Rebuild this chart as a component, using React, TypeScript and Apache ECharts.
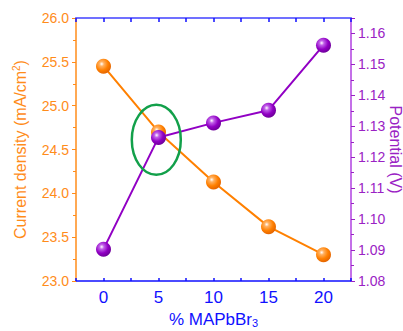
import React, { useEffect, useRef } from "react";
import * as echarts from "echarts";

const xValues = [0, 5, 10, 15, 20];
const currentDensity = [25.45, 24.7, 24.13, 23.62, 23.3];
const potential = [1.0903, 1.1264, 1.1311, 1.1352, 1.1562];
// annotation ellipse: centre in data coords (x, current density), radii in px
const ellipseCenter = [4.8, 24.61];
const ellipseRadii = [24.5, 35];

const ORANGE = "#FF8000";
const ORANGE_TXT = "#FF8C1A";
const PURPLE = "#9100C4";
const PURPLE_TXT = "#9A22C4";
const BLUE = "#1010FF";
const FONT = "'Liberation Sans', Arial, sans-serif";

function sphere(color: string, dark: string, light: string) {
  return {
    type: "radial",
    x: 0.38,
    y: 0.35,
    r: 0.7,
    colorStops: [
      { offset: 0, color: "#ffffff" },
      { offset: 0.22, color: light },
      { offset: 0.6, color: color },
      { offset: 1, color: dark },
    ],
  };
}

export default function App() {
  const ref = useRef<HTMLDivElement>(null);
  useEffect(() => {
    document.body.style.margin = "0";
    if (!ref.current) return;
    const chart = echarts.init(ref.current, null, { renderer: "svg" });
    const option: any = {
      animation: false,
      backgroundColor: "#ffffff",
      grid: { left: 76, right: 52, top: 18, bottom: 50, outerBoundsMode: "none", containLabel: false },
      xAxis: [
        {
          type: "value",
          min: -2.5,
          max: 22.5,
          interval: 2.5,
          position: "bottom",
          name: "{a|% MAPbBr}{s|3}",
          nameLocation: "middle",
          nameGap: 28,
          nameTextStyle: {
            rich: {
              a: { fontSize: 17, color: BLUE, fontFamily: FONT },
              s: { fontSize: 11, color: BLUE, fontFamily: FONT, padding: [8, 0, 0, 0] },
            },
          },
          axisLine: { show: true, onZero: false, lineStyle: { color: BLUE, width: 1.5 } },
          axisTick: { show: true, inside: true, length: 3, lineStyle: { color: BLUE, width: 1.5 } },
          axisLabel: {
            color: BLUE,
            fontSize: 17,
            fontFamily: FONT,
            margin: 8,
            formatter: (v: number) => (Math.abs(v % 5) < 1e-9 && v >= 0 ? String(v) : ""),
          },
          splitLine: { show: false },
        },
        {
          type: "value",
          min: -2.5,
          max: 22.5,
          interval: 2.5,
          position: "top",
          axisLine: { show: true, onZero: false, lineStyle: { color: "#7070FF", width: 2 } },
          axisTick: { show: true, inside: true, length: 4, lineStyle: { color: BLUE, width: 1.5 } },
          axisLabel: { show: false },
          splitLine: { show: false },
        },
      ],
      yAxis: [
        {
          type: "value",
          min: 23,
          max: 26,
          interval: 0.5,
          position: "left",
          name: "{a|Current density (mA/cm}{p|2}{a|)}",
          nameLocation: "middle",
          nameGap: 46,
          nameRotate: 90,
          nameTextStyle: {
            rich: {
              a: { fontSize: 16, color: ORANGE_TXT, fontFamily: FONT },
              p: { fontSize: 10, color: ORANGE_TXT, fontFamily: FONT, padding: [0, 0, 9, 0] },
            },
          },
          axisLine: { show: true, onZero: false, lineStyle: { color: ORANGE_TXT, width: 1.5 } },
          axisTick: { show: true, inside: false, length: 4, lineStyle: { color: ORANGE_TXT, width: 1 } },
          minorTick: { show: true, splitNumber: 2, length: 3, lineStyle: { color: ORANGE_TXT, width: 1 } },
          axisLabel: {
            color: ORANGE_TXT,
            fontSize: 14,
            fontFamily: FONT,
            margin: 7,
            formatter: (v: number) => v.toFixed(1),
          },
          splitLine: { show: false },
        },
        {
          type: "value",
          min: 1.08,
          max: 1.165,
          interval: 0.01,
          position: "right",
          name: "Potential (V)",
          nameLocation: "middle",
          nameGap: 36,
          nameRotate: -90,
          nameMoveOverlap: false,
          nameTextStyle: { fontSize: 16, color: PURPLE_TXT, fontFamily: FONT },
          axisLine: { show: true, onZero: false, lineStyle: { color: "#B040E0", width: 1.5 } },
          axisTick: { show: true, inside: false, length: 4, lineStyle: { color: PURPLE_TXT, width: 1 } },
          minorTick: { show: true, splitNumber: 2, length: 3, lineStyle: { color: PURPLE_TXT, width: 1 } },
          axisLabel: {
            color: PURPLE_TXT,
            fontSize: 14,
            fontFamily: FONT,
            margin: 7,
            formatter: (v: number) => (v > 1.1625 ? "" : v.toFixed(2)),
          },
          splitLine: { show: false },
        },
      ],
      series: [
        {
          type: "line",
          xAxisIndex: 0,
          yAxisIndex: 0,
          data: xValues.map((x, i) => [x, currentDensity[i]]),
          lineStyle: { color: ORANGE, width: 2 },
          symbol: "circle",
          symbolSize: 15,
          itemStyle: { color: sphere(ORANGE, "#E06000", "#FFB060"), borderWidth: 0 },
          z: 2,
        },
        {
          type: "line",
          xAxisIndex: 0,
          yAxisIndex: 1,
          data: xValues.map((x, i) => [x, potential[i]]),
          lineStyle: { color: PURPLE, width: 2 },
          symbol: "circle",
          symbolSize: 15,
          itemStyle: { color: sphere(PURPLE, "#6A0095", "#C060E8"), borderWidth: 0 },
          z: 3,
        },
      ],
    };
    chart.setOption(option);
    const c = chart.convertToPixel({ xAxisIndex: 0, yAxisIndex: 0 }, ellipseCenter) as number[];
    chart.setOption({
      graphic: [
        {
          type: "ellipse",
          shape: { cx: c[0], cy: c[1], rx: ellipseRadii[0], ry: ellipseRadii[1] },
          style: { fill: "none", stroke: "#12A04A", lineWidth: 2.5 },
          z: 100,
        },
      ],
    });
    return () => chart.dispose();
  }, []);
  return <div ref={ref} style={{ width: 403, height: 331 }} />;
}
